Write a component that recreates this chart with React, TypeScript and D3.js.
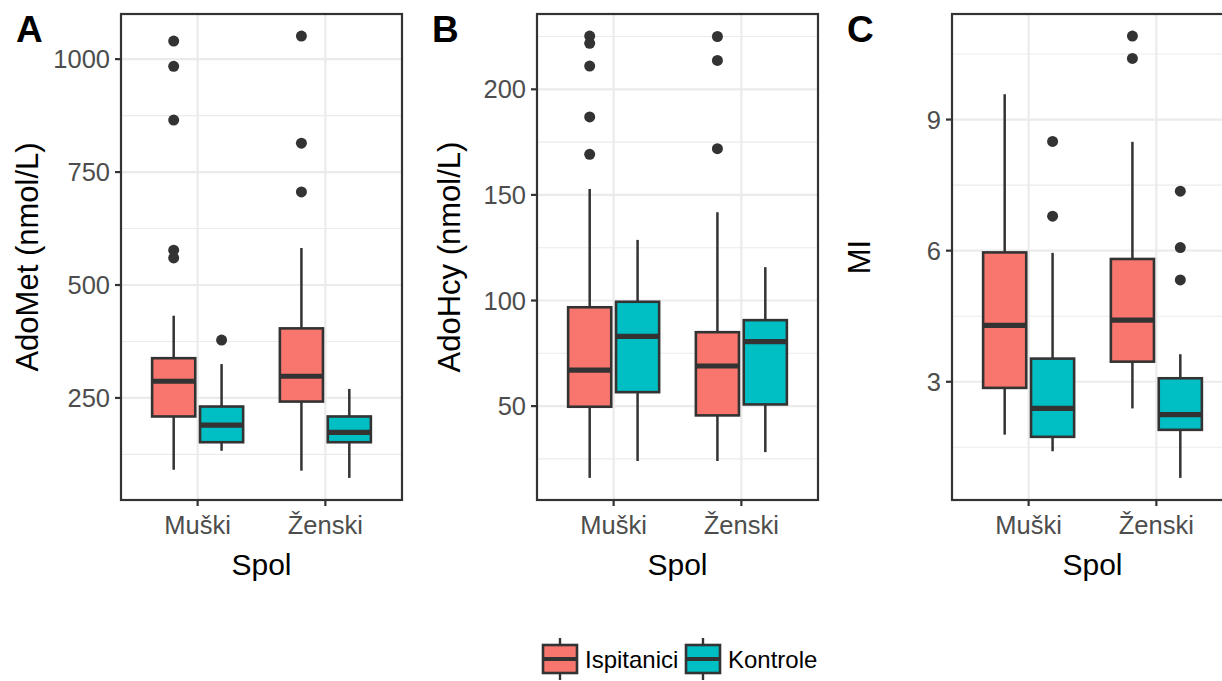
import * as d3 from 'd3';

// sex categories and groups
const sexes = ['Muški', 'Ženski'];
const groups = ['Ispitanici', 'Kontrole'];
const groupColors = ['#F8766D', '#00BFC4'];

interface BoxStat {
  sex: string;
  group: string;
  lower: number;
  q1: number;
  median: number;
  q3: number;
  upper: number;
  outliers: number[];
}

// A: AdoMet (nmol/L)
const adoMetStats: BoxStat[] = [
  { sex: 'Muški', group: 'Ispitanici', lower: 91, q1: 209, median: 287, q3: 338, upper: 432, outliers: [1040, 984, 865, 577, 560] },
  { sex: 'Muški', group: 'Kontrole', lower: 133, q1: 152, median: 190, q3: 231, upper: 325, outliers: [378] },
  { sex: 'Ženski', group: 'Ispitanici', lower: 89, q1: 242, median: 298, q3: 404, upper: 582, outliers: [1051, 814, 706] },
  { sex: 'Ženski', group: 'Kontrole', lower: 73, q1: 152, median: 174, q3: 209, upper: 270, outliers: [] },
];
const adoMetTicks = [250, 500, 750, 1000];
const adoMetMinor = [125, 375, 625, 875];

// B: AdoHcy (nmol/L)
const adoHcyStats: BoxStat[] = [
  { sex: 'Muški', group: 'Ispitanici', lower: 16, q1: 49.7, median: 67, q3: 96.8, upper: 152.8, outliers: [225.2, 221.8, 211, 186.9, 169.2] },
  { sex: 'Muški', group: 'Kontrole', lower: 24, q1: 56.6, median: 83, q3: 99.4, upper: 128.7, outliers: [] },
  { sex: 'Ženski', group: 'Ispitanici', lower: 24, q1: 45.6, median: 69, q3: 85, upper: 141.8, outliers: [225, 213.7, 171.9] },
  { sex: 'Ženski', group: 'Kontrole', lower: 28.2, q1: 50.8, median: 80.5, q3: 90.7, upper: 115.8, outliers: [] },
];
const adoHcyTicks = [50, 100, 150, 200];
const adoHcyMinor = [25, 75, 125, 175, 225];

// C: MI
const miStats: BoxStat[] = [
  { sex: 'Muški', group: 'Ispitanici', lower: 1.79, q1: 2.86, median: 4.29, q3: 5.96, upper: 9.58, outliers: [] },
  { sex: 'Muški', group: 'Kontrole', lower: 1.41, q1: 1.74, median: 2.39, q3: 3.53, upper: 5.95, outliers: [8.5, 6.79] },
  { sex: 'Ženski', group: 'Ispitanici', lower: 2.39, q1: 3.46, median: 4.41, q3: 5.81, upper: 8.49, outliers: [10.91, 10.4] },
  { sex: 'Ženski', group: 'Kontrole', lower: 0.8, q1: 1.9, median: 2.25, q3: 3.08, upper: 3.63, outliers: [7.36, 6.07, 5.33] },
];
const miTicks = [3, 6, 9];
const miMinor = [1.5, 4.5, 7.5, 10.5];

const FONT = "'Liberation Sans', Arial, sans-serif";
const DARK = '#333333';
const GRID = '#EBEBEB';

const plotTop = 14;
const plotBottom = 500;
const plotWidth = 281;

interface PanelProps {
  slotX: number;
  tag: string;
  title: string;
  titleOffset: number;
  stats: BoxStat[];
  ticks: number[];
  minor: number[];
}

function Panel({ slotX, tag, title, titleOffset, stats, ticks, minor }: PanelProps) {
  const left = slotX + 121;
  const right = left + plotWidth;

  // 5% expansion like ggplot
  const lo = d3.min(stats, d => Math.min(d.lower, ...d.outliers)) ?? 0;
  const hi = d3.max(stats, d => Math.max(d.upper, ...d.outliers)) ?? 1;
  const pad = (hi - lo) * 0.05;
  const y = d3.scaleLinear().domain([lo - pad, hi + pad]).range([plotBottom, plotTop]);

  const x = d3.scalePoint<string>().domain(sexes).range([left, right]).padding(0.6);
  const step = x.step();
  const dodge = d3.scaleBand<string>().domain(groups).range([-0.375 * step, 0.375 * step]);
  const boxW = dodge.bandwidth() * 0.9;

  return (
    <g>
      <clipPath id={`clip-${tag}`}>
        <rect x={left} y={plotTop} width={plotWidth} height={plotBottom - plotTop} />
      </clipPath>
      <g clipPath={`url(#clip-${tag})`}>
        {minor.map(v => (
          <line key={`mn${v}`} x1={left} x2={right} y1={y(v)} y2={y(v)} stroke={GRID} strokeWidth={1.1} />
        ))}
        {ticks.map(v => (
          <line key={`mj${v}`} x1={left} x2={right} y1={y(v)} y2={y(v)} stroke={GRID} strokeWidth={2.2} />
        ))}
        {sexes.map(s => (
          <line key={`vx${s}`} x1={x(s)} x2={x(s)} y1={plotTop} y2={plotBottom} stroke={GRID} strokeWidth={2.2} />
        ))}
        {stats.map((d, i) => {
          const cx = (x(d.sex) ?? 0) + (dodge(d.group) ?? 0) + dodge.bandwidth() / 2;
          const fill = groupColors[groups.indexOf(d.group)];
          return (
            <g key={i}>
              <line x1={cx} x2={cx} y1={y(d.upper)} y2={y(d.q3)} stroke={DARK} strokeWidth={2.5} />
              <line x1={cx} x2={cx} y1={y(d.q1)} y2={y(d.lower)} stroke={DARK} strokeWidth={2.5} />
              <rect x={cx - boxW / 2} y={y(d.q3)} width={boxW} height={y(d.q1) - y(d.q3)}
                fill={fill} stroke={DARK} strokeWidth={2.6} />
              <line x1={cx - boxW / 2} x2={cx + boxW / 2} y1={y(d.median)} y2={y(d.median)}
                stroke={DARK} strokeWidth={5.2} />
              {d.outliers.map((o, j) => (
                <circle key={j} cx={cx} cy={y(o)} r={5.5} fill={DARK} />
              ))}
            </g>
          );
        })}
      </g>
      <rect x={left} y={plotTop} width={plotWidth} height={plotBottom - plotTop}
        fill="none" stroke={DARK} strokeWidth={2.2} />
      {ticks.map(v => (
        <g key={`t${v}`}>
          <line x1={left - 6} x2={left} y1={y(v)} y2={y(v)} stroke={DARK} strokeWidth={2.2} />
          <text x={left - 11} y={y(v)} dy="0.36em" textAnchor="end" fontSize={25.5} fill="#4D4D4D"
            fontFamily={FONT}>{v}</text>
        </g>
      ))}
      {sexes.map(s => (
        <g key={`xt${s}`}>
          <line x1={x(s)} x2={x(s)} y1={plotBottom} y2={plotBottom + 6} stroke={DARK} strokeWidth={2.2} />
          <text x={x(s)} y={534} textAnchor="middle" fontSize={25.5} fill="#4D4D4D" fontFamily={FONT}>{s}</text>
        </g>
      ))}
      <text x={(left + right) / 2} y={575} textAnchor="middle" fontSize={30} fill="#000" fontFamily={FONT}>Spol</text>
      <text transform={`translate(${left - titleOffset},${(plotTop + plotBottom) / 2}) rotate(-90)`}
        textAnchor="middle" fontSize={31} fill="#000" fontFamily={FONT}>{title}</text>
      <text x={slotX + 16} y={42} fontSize={37} fontWeight="bold" fill="#000" fontFamily={FONT}>{tag}</text>
    </g>
  );
}

function Legend() {
  const keyX = d3.scaleOrdinal<string, number>().domain(groups).range([543, 686]);
  return (
    <g>
      {groups.map((g, i) => {
        const x0 = keyX(g);
        const cx = x0 + 17;
        return (
          <g key={g}>
            <line x1={cx} x2={cx} y1={638} y2={680} stroke={DARK} strokeWidth={2.4} />
            <rect x={x0} y={645} width={34} height={28} fill={groupColors[i]} stroke={DARK} strokeWidth={2.6} />
            <line x1={x0} x2={x0 + 34} y1={659} y2={659} stroke={DARK} strokeWidth={4} />
            <text x={x0 + 42} y={668} fontSize={24} fill="#000" fontFamily={FONT}>{g}</text>
          </g>
        );
      })}
    </g>
  );
}

export default function App() {
  return (
    <svg width={1222} height={681} style={{ position: 'absolute', left: 0, top: 0, background: '#fff' }}>
      <rect width={1222} height={681} fill="#fff" />
      <Panel slotX={0} tag="A" title="AdoMet (nmol/L)" titleOffset={83} stats={adoMetStats} ticks={adoMetTicks} minor={adoMetMinor} />
      <Panel slotX={416} tag="B" title="AdoHcy (nmol/L)" titleOffset={77} stats={adoHcyStats} ticks={adoHcyTicks} minor={adoHcyMinor} />
      <Panel slotX={831} tag="C" title="MI" titleOffset={82} stats={miStats} ticks={miTicks} minor={miMinor} />
      <Legend />
    </svg>
  );
}
